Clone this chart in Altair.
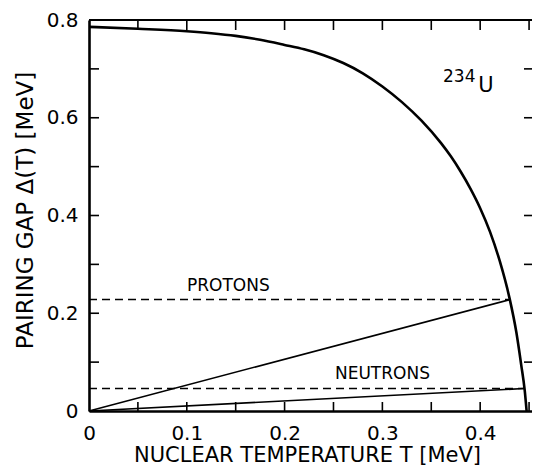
import altair as alt
import pandas as pd

# ---- data ----
T_curve = [0.0, 0.05, 0.10, 0.125, 0.15, 0.175, 0.20, 0.22, 0.24, 0.26, 0.28, 0.30,
           0.32, 0.34, 0.36, 0.37, 0.38, 0.39, 0.40, 0.41, 0.42, 0.43, 0.437,
           0.442, 0.4455, 0.4475]
gap_curve = [0.786, 0.782, 0.777, 0.773, 0.7675, 0.7595, 0.749, 0.740, 0.728, 0.712,
             0.691, 0.664, 0.632, 0.594, 0.548, 0.521, 0.490, 0.455, 0.415, 0.367,
             0.307, 0.231, 0.161, 0.094, 0.043, 0.0]

proton_T = [0.0, 0.4305]
proton_gap = [0.0, 0.228]
proton_level = 0.228
neutron_T = [0.0, 0.445]
neutron_gap = [0.0, 0.046]
neutron_level = 0.046

label_text = ["PROTONS", "NEUTRONS", "234", "U"]
label_T = [0.1002, 0.2515, 0.362, 0.398]
label_gap = [0.256, 0.075, 0.683, 0.665]
label_size = [17, 17, 17, 21]

x_label_values = [0, 0.1, 0.2, 0.3, 0.4]
y_label_values = [0, 0.2, 0.4, 0.6, 0.8]
x_minor = [0.05, 0.10, 0.15, 0.20, 0.25, 0.30, 0.35, 0.40, 0.45]
y_minor = [0.1, 0.2, 0.3, 0.4, 0.5, 0.6, 0.7]

x_domain = [0, 0.453]
y_domain = [0, 0.8]

W, H = 443, 391
FONT = "DejaVu Sans"

xs = alt.Scale(domain=x_domain, nice=False, zero=False)
ys = alt.Scale(domain=y_domain, nice=False, zero=False)

curve_df = pd.DataFrame({"T": T_curve, "gap": gap_curve})
slope_df = pd.DataFrame({
    "T": proton_T + neutron_T,
    "gap": proton_gap + neutron_gap,
    "s": ["p", "p", "n", "n"],
})
dash_df = pd.DataFrame({
    "T": [0.0, proton_T[1], 0.0, neutron_T[1]],
    "gap": [proton_level, proton_level, neutron_level, neutron_level],
    "s": ["p", "p", "n", "n"],
})
lab_df = pd.DataFrame({"T": label_T, "gap": label_gap, "t": label_text, "fs": label_size})
xt_df = pd.DataFrame({"T": x_minor})
yt_df = pd.DataFrame({"gap": y_minor})

main = alt.Chart(curve_df).mark_line(color="black", strokeWidth=2.6, interpolate="monotone").encode(
    x=alt.X("T:Q", scale=xs, axis=alt.Axis(
        orient="bottom", values=x_label_values, title="NUCLEAR TEMPERATURE T [MeV]",
        labelExpr="datum.value == 0 ? '0' : format(datum.value, '.1f')",
        ticks=False, tickSize=0, grid=False, domain=True, domainColor="black", domainWidth=2.6,
        labelFont=FONT, labelFontSize=20, labelColor="black", labelPadding=12,
        labelFlush=False, labelOverlap=False,
        titleFont=FONT, titleFontSize=21, titleFontWeight="normal", titleColor="black",
        titleX=218, titleY=44, titleBaseline="middle", titleAlign="center")),
    y=alt.Y("gap:Q", scale=ys, axis=alt.Axis(
        orient="left", values=y_label_values, title="PAIRING GAP Δ(T) [MeV]",
        labelExpr="datum.value == 0 ? '0' : format(datum.value, '.1f')",
        ticks=False, tickSize=0, grid=False, domain=True, domainColor="black", domainWidth=2.6,
        labelFont=FONT, labelFontSize=20, labelColor="black", labelPadding=11,
        labelFlush=False, labelOverlap=False,
        titleFont=FONT, titleFontSize=23, titleFontWeight="normal", titleColor="black",
        titleX=-64, titleY=190, titleBaseline="middle", titleAlign="center", titleAngle=270)),
)

slopes = alt.Chart(slope_df).mark_line(color="black", strokeWidth=1.6).encode(
    x=alt.X("T:Q"), y=alt.Y("gap:Q"), detail="s:N",
)

dashes = alt.Chart(dash_df).mark_line(color="black", strokeWidth=1.5, strokeDash=[8, 5]).encode(
    x=alt.X("T:Q"), y=alt.Y("gap:Q"), detail="s:N",
)

labels = alt.Chart(lab_df).mark_text(align="left", baseline="middle", font=FONT, color="black").encode(
    x=alt.X("T:Q"), y=alt.Y("gap:Q"),
    text="t:N",
    size=alt.Size("fs:Q", scale=None, legend=None),
)

# inward tick marks (positions come from the scales)
bottom_ticks = alt.Chart(xt_df).mark_rule(color="black", strokeWidth=1.6).encode(
    x=alt.X("T:Q"), y=alt.value(H), y2=alt.value(H - 9),
)
top_ticks = alt.Chart(xt_df).mark_rule(color="black", strokeWidth=1.6).encode(
    x=alt.X("T:Q"), y=alt.value(0), y2=alt.value(10),
)
left_ticks = alt.Chart(yt_df).mark_rule(color="black", strokeWidth=1.6).encode(
    y=alt.Y("gap:Q"), x=alt.value(0), x2=alt.value(10),
)
right_ticks = alt.Chart(yt_df).mark_rule(color="black", strokeWidth=1.6).encode(
    y=alt.Y("gap:Q"), x=alt.value(W - 8), x2=alt.value(W),
)
# top frame line
top_frame = alt.Chart(xt_df).mark_rule(color="black", strokeWidth=2.2).encode(
    x=alt.value(0), x2=alt.value(W), y=alt.value(0),
)

chart = alt.layer(
    main, slopes, dashes, labels, bottom_ticks, top_ticks, left_ticks, right_ticks, top_frame
).properties(
    width=W, height=H,
    autosize=alt.AutoSizeParams(type="none"),
    padding={"left": 81, "top": 12, "right": 0, "bottom": 55},
    background="white",
).configure_view(stroke=None)

chart.save("out.html", embed_options={"renderer": "svg", "actions": False})
